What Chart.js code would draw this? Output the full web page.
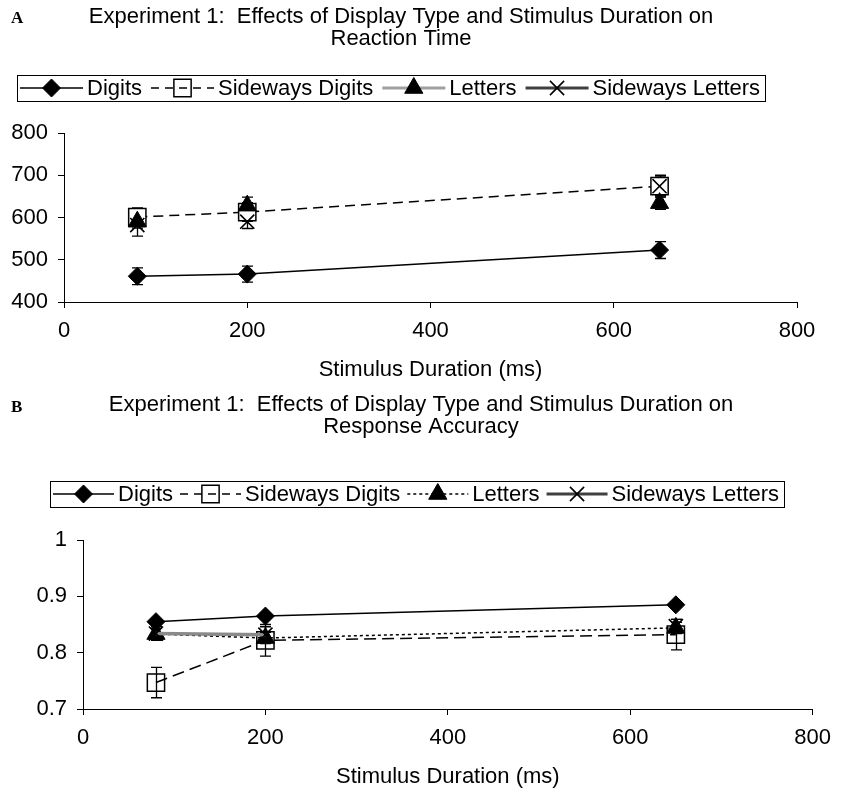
<!DOCTYPE html>
<html>
<head>
<meta charset="utf-8">
<script src="https://cdn.jsdelivr.net/npm/chart.js@4.4.1/dist/chart.umd.min.js"></script>
<style>
  html, body { margin: 0; padding: 0; background: #fff; }
  #wrap { position: relative; width: 841px; height: 790px; overflow: hidden; }
  .panel { position: absolute; left: 0; }
  .lab { position: absolute; font-family: "Liberation Serif", "Times New Roman", serif; font-weight: bold; font-size: 17px; color: #000; line-height: 1; }
</style>
</head>
<body>
<div id="wrap">
  <canvas id="chartA" class="panel" style="top:0px" width="841" height="390"></canvas>
  <canvas id="chartB" class="panel" style="top:390px" width="841" height="400"></canvas>
  <div class="lab" style="left:11px; top:9px;">A</div>
  <div class="lab" style="left:11px; top:398px;">B</div>
</div>
<script>
// ---------------- DATA ----------------
const durations = [80, 200, 650];
const seriesLabels = ['Digits', 'Sideways Digits', 'Letters', 'Sideways Letters'];
const xTickValues = [0, 200, 400, 600, 800];
const rtTickValues = [400, 500, 600, 700, 800];
const accTickValues = [0.7, 0.8, 0.9, 1];

const titleA = ['Experiment 1:  Effects of Display Type and Stimulus Duration on', 'Reaction Time'];
const titleB = ['Experiment 1:  Effects of Display Type and Stimulus Duration on', 'Response Accuracy'];
const xAxisTitle = 'Stimulus Duration (ms)';

// Panel A: reaction time (ms)
const rtDigits = [461, 466, 523];
const rtSidewaysDigits = [601, 613, 674];
const rtLetters = [590, 628, 634];
const rtSidewaysLetters = [582, 590, 674];
const rtErrDigits = [20, 19, 20];
const rtErrSidewaysDigits = [22, 22, 26];
const rtErrLetters = [15, 20, 15];
const rtErrSidewaysLetters = [26, 16, 22];

// Panel B: response accuracy
const accDigits = [0.855, 0.865, 0.885];
const accSidewaysDigits = [0.747, 0.822, 0.832];
const accLetters = [0.833, 0.826, 0.844];
const accSidewaysLetters = [0.834, 0.832, 0.847];
const accErrDigits = [0.005, 0.005, 0.004];
const accErrSidewaysDigits = [0.027, 0.028, 0.027];
const accErrLetters = [0.010, 0.010, 0.010];
const accErrSidewaysLetters = [0.012, 0.014, 0.012];

// ---------------- HELPERS ----------------
const FONT = '"Liberation Sans", Arial, sans-serif';
const pts = vals => durations.map((d, i) => ({ x: d, y: vals[i] }));

function drawMarker(ctx, style, r, x, y) {
  if (Chart.helpers && Chart.helpers.drawPoint) {
    Chart.helpers.drawPoint(ctx, { pointStyle: style, radius: r, borderWidth: ctx.lineWidth, rotation: 0 }, x, y);
    return;
  }
  ctx.beginPath();
  ctx.arc(x, y, r, 0, Math.PI * 2);
  ctx.fill(); ctx.stroke();
}

const errorBarsPlugin = {
  id: 'errorBars',
  beforeDatasetsDraw(chart, args, opts) {
    const ctx = chart.ctx, xs = chart.scales.x, ys = chart.scales.y;
    const cap = opts.cap || 5.5;
    ctx.save();
    ctx.strokeStyle = '#000';
    ctx.lineWidth = opts.lineWidth || 1.3;
    ctx.setLineDash([]);
    chart.data.datasets.forEach(ds => {
      if (!ds.errors) return;
      ds.data.forEach((p, i) => {
        const e = ds.errors[i];
        if (!e) return;
        const px = Math.round(xs.getPixelForValue(p.x)) + 0.5;
        const y1 = ys.getPixelForValue(p.y + e);
        const y2 = ys.getPixelForValue(p.y - e);
        ctx.beginPath();
        ctx.moveTo(px, y1); ctx.lineTo(px, y2);
        ctx.moveTo(px - cap, y1); ctx.lineTo(px + cap, y1);
        ctx.moveTo(px - cap, y2); ctx.lineTo(px + cap, y2);
        ctx.stroke();
      });
    });
    ctx.restore();
  }
};

const boxLegendPlugin = {
  id: 'boxLegend',
  afterDraw(chart, args, opts) {
    const ctx = chart.ctx;
    ctx.save();
    ctx.font = opts.fontSize + 'px ' + FONT;
    ctx.textBaseline = 'middle';
    ctx.textAlign = 'left';
    const y = opts.centerY;
    let x = opts.left + opts.padLeft;
    chart.data.datasets.forEach(ds => {
      const L = ds.legendLine;
      ctx.save();
      ctx.strokeStyle = L.color; ctx.lineWidth = L.width; ctx.setLineDash(L.dash || []);
      ctx.beginPath(); ctx.moveTo(x, y); ctx.lineTo(x + opts.sampleW, y); ctx.stroke();
      ctx.restore();
      ctx.save();
      ctx.fillStyle = ds.legendFill || ds.pointBackgroundColor;
      ctx.strokeStyle = ds.pointBorderColor;
      ctx.lineWidth = ds.pointBorderWidth;
      ctx.setLineDash([]);
      drawMarker(ctx, ds.pointStyle, ds.pointRadius, x + opts.sampleW / 2, y);
      ctx.restore();
      x += opts.sampleW + opts.gapText;
      ctx.fillStyle = '#000';
      ctx.fillText(ds.label, x, y + 1);
      x += ctx.measureText(ds.label).width + opts.gapItem;
    });
    const right = x - opts.gapItem + opts.padRight;
    ctx.strokeStyle = '#000';
    ctx.lineWidth = 1;
    ctx.setLineDash([]);
    ctx.strokeRect(Math.round(opts.left) + 0.5, Math.round(y - opts.h / 2) + 0.5, Math.round(right - opts.left), opts.h);
    ctx.restore();
  }
};

function buildDatasets(vals, errs, cfg) {
  return [
    { label: seriesLabels[0], data: pts(vals[0]), errors: errs[0], showLine: true,
      borderColor: '#000', borderWidth: 1.5, borderDash: [],
      pointStyle: 'rectRot', pointRadius: 9, pointBackgroundColor: '#000', pointBorderColor: '#000', pointBorderWidth: 1,
      order: 4, legendLine: { color: '#000', width: 1.5, dash: [] } },
    { label: seriesLabels[1], data: pts(vals[1]), errors: errs[1], showLine: true,
      borderColor: '#000', borderWidth: 1.5, borderDash: cfg.sdDash,
      pointStyle: 'rect', pointRadius: 12.2, pointBackgroundColor: cfg.squareFill, pointBorderColor: '#000', pointBorderWidth: 1.5,
      legendFill: 'rgba(255,255,255,0)',
      order: 3, legendLine: { color: '#000', width: 1.5, dash: [8, 6] } },
    { label: seriesLabels[2], data: pts(vals[2]), errors: errs[2], showLine: cfg.lettersLine,
      borderColor: '#000', borderWidth: 1.5, borderDash: [3, 3],
      pointStyle: 'triangle', pointRadius: 10.5, pointBackgroundColor: '#000', pointBorderColor: '#000', pointBorderWidth: 1,
      order: 2, legendLine: cfg.lettersLegend },
    { label: seriesLabels[3], data: pts(vals[3]), errors: errs[3], showLine: cfg.slLine,
      borderColor: '#8a8a8a', borderWidth: 3.5, borderDash: [],
      segment: { borderColor: c => (c.p0DataIndex >= 1 ? 'rgba(0,0,0,0)' : undefined) },
      pointStyle: 'crossRot', pointRadius: 10, pointBackgroundColor: '#000', pointBorderColor: '#000', pointBorderWidth: 1.6,
      order: 1, legendLine: cfg.slLegend }
  ];
}

function buildScales(p) {
  const tickFont = { family: FONT, size: 22 };
  return {
    x: {
      type: 'linear', min: 0, max: 800,
      afterBuildTicks: s => { s.ticks = xTickValues.map(v => ({ value: v })); },
      afterFit: s => { s.height = 81; },
      ticks: { color: '#000', font: tickFont, padding: 10, maxRotation: 0, autoSkip: false },
      grid: { display: true, drawOnChartArea: false, drawTicks: true, tickLength: 6, color: '#000', lineWidth: 1 },
      border: { display: true, color: '#000', width: 1 },
      title: { display: true, text: xAxisTitle, color: '#000', font: { family: FONT, size: 22 }, padding: { top: 0, bottom: 0 } }
    },
    y: {
      type: 'linear', min: p.yMin, max: p.yMax,
      afterBuildTicks: s => { s.ticks = p.yTicks.map(v => ({ value: v })); },
      afterFit: s => { s.width = p.yWidth; },
      ticks: { color: '#000', font: tickFont, padding: 10, autoSkip: false,
               callback: v => String(Math.round(v * 1000) / 1000) },
      grid: { display: true, drawOnChartArea: false, drawTicks: true, tickLength: 6, color: '#000', lineWidth: 1 },
      border: { display: true, color: '#000', width: 1 }
    }
  };
}

function makeChart(id, p) {
  return new Chart(document.getElementById(id), {
    type: 'scatter',
    data: { datasets: p.datasets },
    options: {
      responsive: false,
      animation: false,
      events: [],
      layout: { padding: p.padding },
      scales: buildScales(p),
      plugins: {
        legend: { display: false },
        tooltip: { enabled: false },
        title: { display: true, text: p.title, color: '#000',
                 font: { family: FONT, size: 22, weight: 'normal', lineHeight: 1.0 },
                 padding: { top: 0, bottom: p.titleGap } },
        errorBars: { cap: 5.5, lineWidth: 1.3 },
        boxLegend: p.legend
      }
    },
    plugins: [errorBarsPlugin, boxLegendPlugin]
  });
}

// ---------------- CHART A ----------------
makeChart('chartA', {
  datasets: buildDatasets(
    [rtDigits, rtSidewaysDigits, rtLetters, rtSidewaysLetters],
    [rtErrDigits, rtErrSidewaysDigits, rtErrLetters, rtErrSidewaysLetters],
    { sdDash: [10, 6], squareFill: '#fff', lettersLine: false, slLine: false,
      lettersLegend: { color: '#a0a0a0', width: 3, dash: [] },
      slLegend: { color: '#404040', width: 3, dash: [] } }),
  title: titleA,
  titleGap: 83,
  padding: { top: 6, left: 5, right: 44, bottom: 7 },
  yMin: 400, yMax: 800, yTicks: rtTickValues, yWidth: 59,
  legend: { left: 17, centerY: 88, h: 26, fontSize: 22, sampleW: 63, gapText: 4, gapItem: 9, padLeft: 3, padRight: 5 }
});

// ---------------- CHART B ----------------
makeChart('chartB', {
  datasets: buildDatasets(
    [accDigits, accSidewaysDigits, accLetters, accSidewaysLetters],
    [accErrDigits, accErrSidewaysDigits, accErrLetters, accErrSidewaysLetters],
    { sdDash: [12, 6], squareFill: 'rgba(255,255,255,0)', lettersLine: true, slLine: true,
      lettersLegend: { color: '#000', width: 1.5, dash: [3, 3] },
      slLegend: { color: '#404040', width: 3, dash: [] } }),
  title: titleB,
  titleGap: 102,
  padding: { top: 4, left: 20, right: 19, bottom: 0 },
  yMin: 0.7, yMax: 1, yTicks: accTickValues, yWidth: 63,
  legend: { left: 50, centerY: 104, h: 26, fontSize: 22, sampleW: 61, gapText: 4, gapItem: 7, padLeft: 3, padRight: 5 }
});
</script>
</body>
</html>
